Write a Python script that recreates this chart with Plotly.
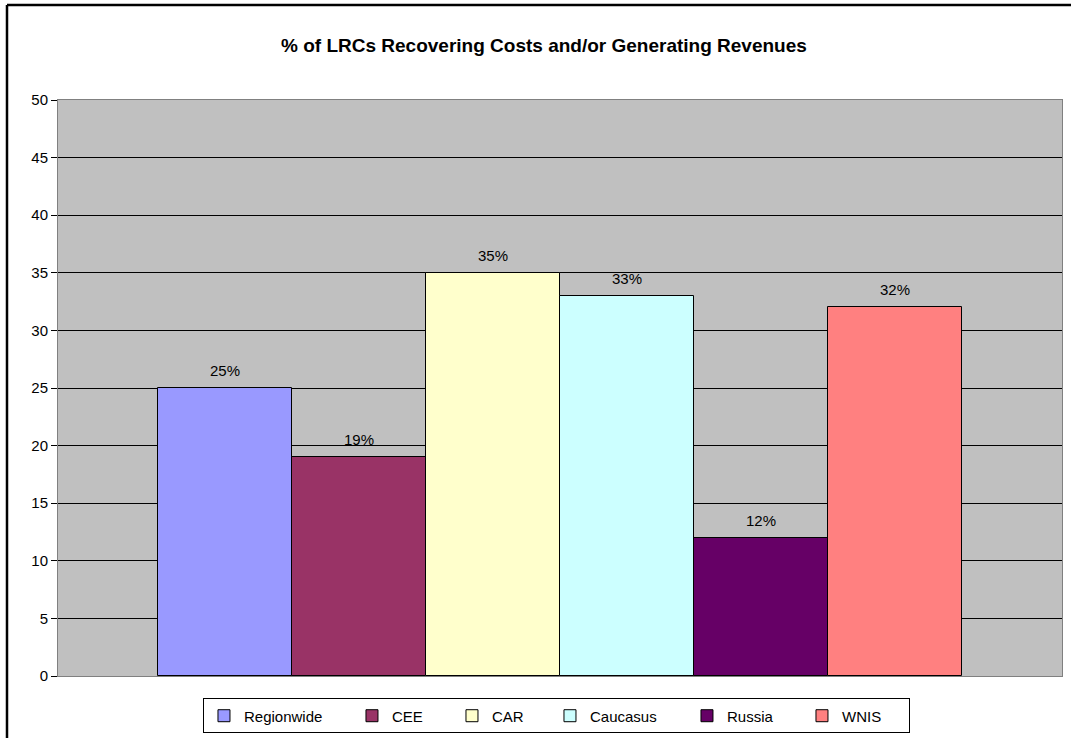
import plotly.graph_objects as go

# Share of LRCs recovering costs and/or generating revenues, by region (%)
regions = ["Regionwide", "CEE", "CAR", "Caucasus", "Russia", "WNIS"]
shares = [25, 19, 35, 33, 12, 32]
tick_values = [0, 5, 10, 15, 20, 25, 30, 35, 40, 45, 50]

# Styling
colors = ["#9999FF", "#993366", "#FFFFCC", "#CCFFFF", "#660066", "#FF8080"]
legend_widths = [103, 55, 53, 92, 70, 62]
FONT = "Liberation Sans, Arial, sans-serif"

fig = go.Figure()
for name, val, col, lw in zip(regions, shares, colors, legend_widths):
    fig.add_trace(go.Bar(
        x=[name], y=[val], name=name,
        marker=dict(color=col, line=dict(color="#000000", width=1)),
        legendwidth=lw,
        hovertemplate="%{x}: %{y}%<extra></extra>",
    ))
    fig.add_annotation(
        x=name, y=val, text=f"{val}%", showarrow=False,
        yanchor="bottom", yshift=7,
        font=dict(family=FONT, size=15, color="#000000"),
    )

# Outer chart border (top and left edges visible)
fig.add_shape(type="line", xref="paper", yref="paper",
              x0=-0.0508, x1=1.08, y0=1.1649, y1=1.1649,
              line=dict(color="#000000", width=2.5))
fig.add_shape(type="line", xref="paper", yref="paper",
              x0=-0.0508, x1=-0.0508, y0=-0.15, y1=1.1649,
              line=dict(color="#000000", width=2.5))

fig.update_layout(
    width=1071, height=738,
    margin=dict(l=58, r=9, t=100, b=62, autoexpand=False),
    paper_bgcolor="#FFFFFF",
    plot_bgcolor="#C0C0C0",
    barmode="overlay",
    bargap=0,
    font=dict(family=FONT, size=15, color="#000000"),
    title=dict(
        text="<b>% of LRCs Recovering Costs and/or Generating Revenues</b>",
        x=0.484, xanchor="center", xref="paper",
        y=0.939, yanchor="middle",
        font=dict(family=FONT, size=19, color="#000000"),
    ),
    showlegend=True,
    legend=dict(
        orientation="h",
        x=0.1444, xanchor="left",
        y=-0.039, yanchor="top",
        bgcolor="#FFFFFF",
        bordercolor="#000000", borderwidth=1,
        font=dict(family=FONT, size=15, color="#000000"),
        traceorder="normal",
    ),
    xaxis=dict(
        type="category",
        range=[-1.246, 6.246],
        showticklabels=False,
        ticks="",
        showgrid=False,
        showline=True, linecolor="#808080", linewidth=1, mirror=True,
        fixedrange=True,
    ),
    yaxis=dict(
        range=[0, 50],
        tickmode="array", tickvals=tick_values,
        ticks="outside", ticklen=6, tickcolor="#000000",
        showgrid=True, gridcolor="#000000", gridwidth=1,
        zeroline=True, zerolinecolor="#000000", zerolinewidth=1,
        showline=True, linecolor="#808080", linewidth=1, mirror=True,
        tickfont=dict(family=FONT, size=15, color="#000000"),
        fixedrange=True,
    ),
)

fig.write_html("out.html")
